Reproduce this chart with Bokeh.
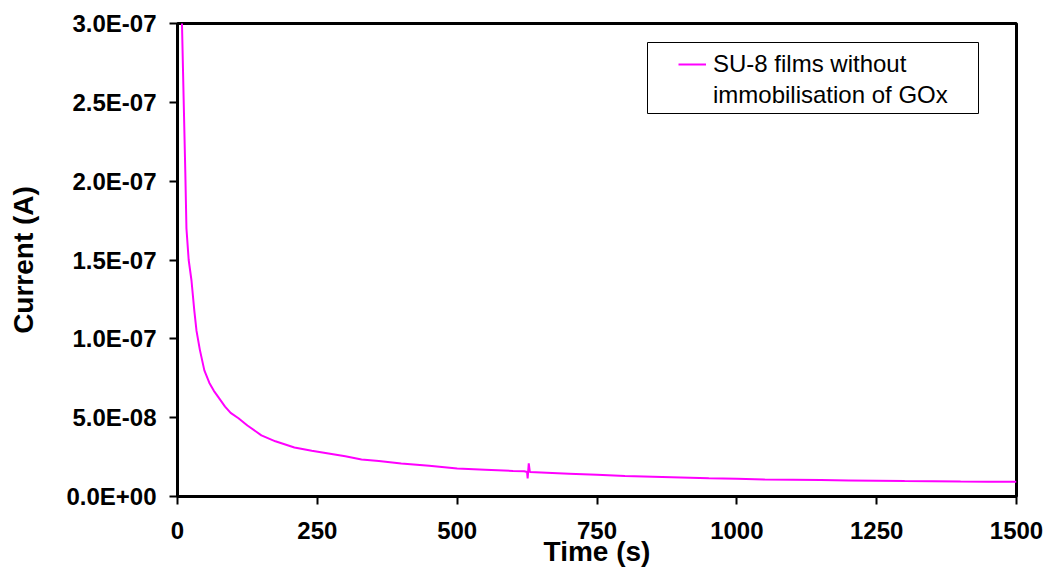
from bokeh.plotting import figure
from bokeh.models import FixedTicker, Legend, LegendItem, Range1d, BoxAnnotation
from bokeh.embed import file_html
from bokeh.resources import INLINE

# ---- data ----
time_s = [2, 8, 11, 14, 16, 20, 25, 30, 34, 40, 48, 57, 65, 73, 85, 95, 109, 125,
          150, 175, 209, 240, 270, 300, 329, 360, 400, 450, 500, 550, 600, 620,
          625, 626, 628, 630, 650, 700, 750, 800, 850, 900, 950, 1000, 1050, 1100,
          1150, 1200, 1250, 1300, 1350, 1400, 1450, 1500]
current_e8 = [40.0, 30.0, 25.2, 20.5, 17.0, 15.0, 13.7, 11.8, 10.5, 9.3, 8.0, 7.2,
              6.7, 6.3, 5.7, 5.3, 4.96, 4.5, 3.88, 3.5, 3.11, 2.9, 2.73, 2.55, 2.35,
              2.25, 2.1, 1.95, 1.78, 1.7, 1.62, 1.6, 1.55, 1.15, 2.1, 1.55, 1.52,
              1.45, 1.38, 1.3, 1.25, 1.2, 1.15, 1.12, 1.08, 1.06, 1.04, 1.02, 1.0,
              0.98, 0.97, 0.95, 0.94, 0.93]
current_A = [v * 1e-8 for v in current_e8]

x_ticks = [0, 250, 500, 750, 1000, 1250, 1500]
y_ticks = [0.0, 5e-8, 1e-7, 1.5e-7, 2e-7, 2.5e-7, 3e-7]
y_tick_labels = ["0.0E+00", "5.0E-08", "1.0E-07", "1.5E-07", "2.0E-07", "2.5E-07", "3.0E-07"]
legend_lines = ["SU-8 films without", "immobilisation of GOx"]

FONT = "Liberation Sans"
W, H = 1050, 572

p = figure(width=W, height=H, output_backend="svg", toolbar_location=None,
           x_range=Range1d(0, 1500), y_range=Range1d(0, 3e-7),
           min_border_left=177, min_border_right=W - 1016, min_border_top=23,
           min_border_bottom=H - 496)
p.background_fill_color = "white"
p.border_fill_color = "white"
p.outline_line_color = "black"
p.outline_line_width = 3
p.xgrid.visible = False
p.ygrid.visible = False

r = p.line(time_s, current_A, line_color="#FF00FF", line_width=2)
# invisible helper so the second legend row carries no glyph
r_blank = p.line([], [], line_alpha=0)

for ax in (p.xaxis[0], p.yaxis[0]):
    ax.axis_line_color = "black"
    ax.axis_line_width = 3
    ax.major_tick_line_color = "black"
    ax.major_tick_line_width = 2
    ax.major_tick_out = 8
    ax.major_tick_in = 0
    ax.minor_tick_line_color = None
    ax.major_label_text_font = FONT
    ax.major_label_text_font_style = "bold"
    ax.major_label_text_font_size = "24px"
    ax.major_label_text_color = "black"
    ax.axis_label_text_font = FONT
    ax.axis_label_text_font_style = "bold"
    ax.axis_label_text_color = "black"
    ax.axis_label_text_font_size = "28px"

p.xaxis.ticker = FixedTicker(ticks=x_ticks)
p.yaxis.ticker = FixedTicker(ticks=y_ticks)
p.yaxis.major_label_overrides = {t: l for t, l in zip(y_ticks, y_tick_labels)}
p.xaxis.major_label_standoff = 17
p.yaxis.major_label_standoff = 13
p.xaxis.axis_label = "Time (s)"
p.yaxis.axis_label = "Current (A)"
p.xaxis.axis_label_standoff = -6
p.yaxis.axis_label_standoff = 24

# legend frame
box = BoxAnnotation(left=647, right=978, top=42, bottom=113,
                    left_units="canvas", right_units="canvas",
                    top_units="canvas", bottom_units="canvas",
                    fill_color="white", fill_alpha=1,
                    line_color="black", line_width=1, line_alpha=1)
p.add_layout(box)

legend = Legend(items=[LegendItem(label=legend_lines[0], renderers=[r]),
                       LegendItem(label=legend_lines[1], renderers=[r_blank])],
                location=(501, 387))
legend.label_text_font = FONT
legend.label_text_font_size = "24px"
legend.label_text_color = "black"
legend.border_line_color = None
legend.background_fill_alpha = 0
legend.glyph_width = 28
legend.label_standoff = 7
legend.padding = 0
legend.spacing = 3
legend.margin = 0
p.add_layout(legend)

open("out.html", "w").write(file_html(p, INLINE))
